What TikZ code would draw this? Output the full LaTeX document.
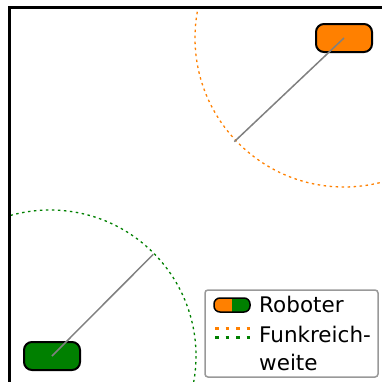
\documentclass[tikz,border=0pt]{standalone}
\usepackage{fontspec}
\setmainfont{DejaVu Sans}
\definecolor{robOrange}{RGB}{255,128,0}
\definecolor{robGreen}{RGB}{0,128,0}
\tikzset{
  robot/.style={draw=black, line width=2pt, rounded corners=8pt, minimum width=56pt, minimum height=28pt, inner sep=0pt},
  radiorange/.style={line width=1.3pt, dash pattern=on 2.5pt off 3.5pt},
  link/.style={draw=gray, line width=1.5pt},
  legtext/.style={anchor=base west, inner sep=0pt, font=\fontsize{21.5}{25}\selectfont},
  legdots/.style={line width=3.5pt, dash pattern=on 3.7pt off 6.8pt},
}
\begin{document}
\begin{tikzpicture}[x=1pt,y=-1pt]
\useasboundingbox (0,0) rectangle (382,381);
\begin{scope}
\clip (9.7,7.5) rectangle (382,381);
% ranges
\draw[radiorange, robOrange] (344,38) circle[radius=149];
\draw[radiorange, robGreen] (50,356) circle[radius=146];
\end{scope}
\begin{scope}
\clip (0,0) rectangle (382,381);
% frame
\draw[line width=2.6pt] (9.7,400) -- (9.7,7.5) -- (400,7.5);
\end{scope}
% robots
\node[robot, fill=robOrange] (ro) at (344,38) {};
\node[robot, fill=robGreen] (rg) at (52,356) {};
\coordinate (eo) at (234.3,141.7);
\coordinate (eg) at (153.3,254.3);
\draw[link] (ro.center) -- (eo);
\draw[link] (rg.center) -- (eg);
% legend
\node[draw=gray!80, line width=1.5pt, rounded corners=3pt, fill=white, minimum width=173pt, minimum height=87pt, inner sep=0pt] (leg) at (291.5,333.5) {};
\begin{scope}
\clip[rounded corners=6pt] (214,298) rectangle (250,312);
\fill[robOrange] (214,298) rectangle (232,312);
\fill[robGreen] (232,298) rectangle (250,312);
\end{scope}
\draw[line width=1.5pt, rounded corners=6pt] (214,298) rectangle (250,312);
\coordinate (do1) at (215,328.3);
\coordinate (do2) at (252,328.3);
\coordinate (dg1) at (215,337.3);
\coordinate (dg2) at (252,337.3);
\draw[legdots, robOrange] (do1) -- (do2);
\draw[legdots, robGreen] (dg1) -- (dg2);
\node[legtext] (t1) at (259,312.7) {Roboter};
\node[legtext] (t2) at (259,342.3) {Funkreich-};
\node[legtext] (t3) at (259,370) {weite};
\end{tikzpicture}
\end{document}
